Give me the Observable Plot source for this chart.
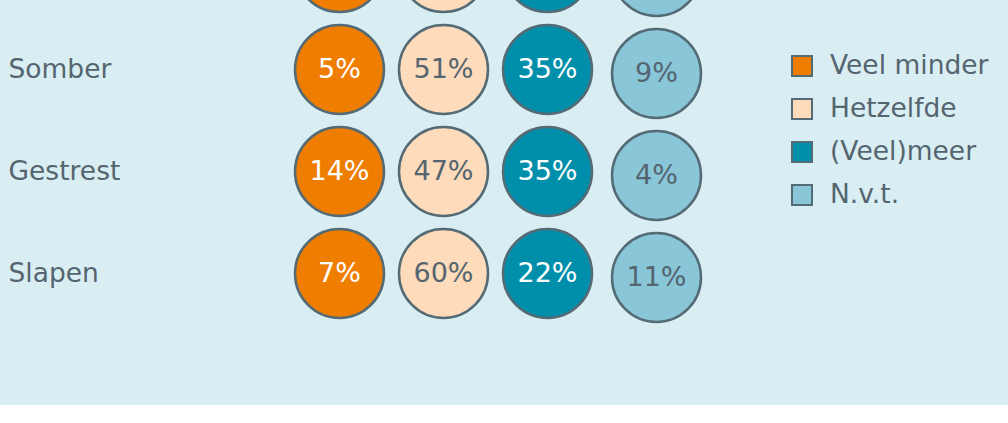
<!DOCTYPE html>
<html>
<head>
<meta charset="utf-8">
<script src="https://cdn.jsdelivr.net/npm/d3@7"></script>
<script src="https://cdn.jsdelivr.net/npm/@observablehq/plot@0.6"></script>
<style>
  html, body { margin: 0; padding: 0; background: #ffffff; }
  #wrap { position: relative; width: 1008px; height: 405px; background: #d9eef3; overflow: hidden; }
  #legend { position: absolute; left: 791px; top: 44px; font-family: "DejaVu Sans", Verdana, sans-serif; font-size: 26.5px; color: #55656f; }
  .item { display: flex; align-items: center; height: 43px; }
  .sw { width: 22px; height: 22px; box-sizing: border-box; border: 2.5px solid #546a75; margin-right: 17px; }
  .lab { line-height: 26px; position: relative; top: -1px; }
</style>
</head>
<body>
<div id="wrap"><div id="chart"></div><div id="legend"></div></div>
<script>
// Rows (top row is cut off in the reference: only the lower part of its circles shows; values are estimates)
const rows = ["Angstig", "Somber", "Gestrest", "Slapen"];
const visibleRows = ["Somber", "Gestrest", "Slapen"];
const categories = ["Veel minder", "Hetzelfde", "(Veel)meer", "N.v.t."];
const veelMinder = [6, 5, 14, 7];
const hetzelfde  = [48, 51, 47, 60];
const veelMeer   = [37, 35, 35, 22];
const nvt        = [9, 9, 4, 11];
const fills = ["#ef7d00", "#fddbbb", "#008fab", "#88c6d8"];

const series = [veelMinder, hetzelfde, veelMeer, nvt];
const table = rows.flatMap((r, i) => categories.map((c, j) => ({row: r, cat: c, value: series[j][i]})));
const shown = table.filter(d => visibleRows.includes(d.row));
const main = table.filter(d => d.cat !== "N.v.t.");
const last = table.filter(d => d.cat === "N.v.t.");
const whiteText = shown.filter(d => d.cat === "Veel minder" || d.cat === "(Veel)meer");
const greyText = shown.filter(d => d.cat === "Hetzelfde");
const lastText = shown.filter(d => d.cat === "N.v.t.");

const stroke = "#546a75";
const textGrey = "#55656f";
const font = "DejaVu Sans, Verdana, sans-serif";

const chart = Plot.plot({
  width: 1008,
  height: 405,
  margin: 0,
  style: {background: "transparent", fontFamily: font, overflow: "hidden"},
  x: {type: "point", domain: categories, range: [339, 651], padding: 0, axis: null},
  y: {type: "point", domain: rows, range: [-34, 273.5], padding: 0, axis: null},
  color: {domain: categories, range: fills},
  marks: [
    Plot.dot(main, {x: "cat", y: "row", r: 44.5, fill: "cat", stroke, strokeWidth: 2.5}),
    Plot.dot(last, {x: "cat", y: "row", r: 44.5, fill: "cat", stroke, strokeWidth: 2.5, dx: 5, dy: 4}),
    Plot.text(whiteText, {x: "cat", y: "row", text: d => d.value + "%", fill: "white", fontSize: 27}),
    Plot.text(greyText, {x: "cat", y: "row", text: d => d.value + "%", fill: textGrey, fontSize: 27}),
    Plot.text(lastText, {x: "cat", y: "row", text: d => d.value + "%", fill: textGrey, fontSize: 27, dx: 5, dy: 4}),
    Plot.text(visibleRows, {y: d => d, text: d => d, frameAnchor: "left", textAnchor: "start", dx: 8, fill: textGrey, fontSize: 26.5})
  ]
});
document.getElementById("chart").append(chart);

const legend = document.getElementById("legend");
categories.forEach((c, i) => {
  const item = document.createElement("div");
  item.className = "item";
  const sw = document.createElement("div");
  sw.className = "sw";
  sw.style.background = fills[i];
  const lab = document.createElement("span");
  lab.className = "lab";
  lab.textContent = c;
  item.append(sw, lab);
  legend.append(item);
});
</script>
</body>
</html>
